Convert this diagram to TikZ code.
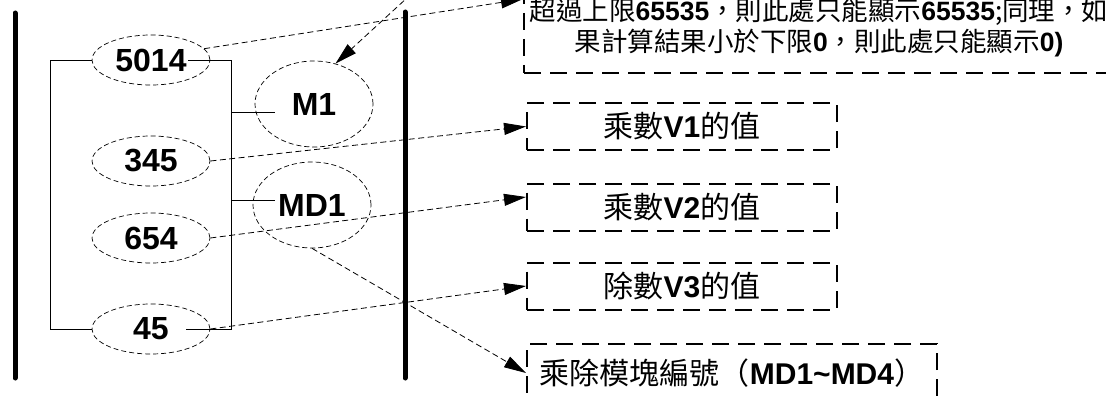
\documentclass[tikz,border=0pt]{standalone}
\usepackage{fontspec}
\setmainfont{Noto Sans CJK TC}
\newfontfamily\arialfont{Liberation Sans}
\usepackage{tikz}
\usetikzlibrary{positioning,arrows.meta,shapes.geometric,calc}
\newcommand{\bnum}[1]{{\arialfont\bfseries #1}}
\tikzset{
  numnode/.style={ellipse,draw,line width=0.7pt,dash pattern=on 5pt off 3pt,
                  minimum width=118pt,minimum height=50pt,inner sep=0pt,
                  font=\arialfont\bfseries\fontsize{32}{36}\selectfont},
  modnode/.style={numnode,minimum height=86pt},
  tagbox/.style={rectangle,draw,line width=2pt,dash pattern=on 17pt off 9pt,
                 minimum width=310pt,minimum height=47pt,inner sep=0pt,
                 font=\fontsize{30}{34}\selectfont},
  wire/.style={line width=0.8pt},
  rail/.style={line width=5pt,line cap=round},
  pointer/.style={->,line width=0.8pt,dash pattern=on 6pt off 3.5pt},
}

\begin{document}
\begin{tikzpicture}[x=1pt,y=-1pt,>={Triangle[length=22pt,width=12pt]}]
\useasboundingbox (0,0) rectangle (1106,396);
\clip (0,0) rectangle (1106,396);

% power rails
\draw[rail] (15,13) -- (15,378);
\draw[rail] (405,12) -- (405,378);

% operands and module
\node[numnode] (v5014) at (151,60) {5014};
\node[numnode] (v345) at (151,161) {345};
\node[numnode] (v654) at (151,238) {654};
\node[numnode] (v45) at (151,329) {45};
\node[modnode] (m1) at (314,104) {M1};
\node[modnode] (md1) at (312,205) {MD1};

% instruction frame
\coordinate (busL) at (50,0);
\coordinate (busR) at (231,0);
\coordinate (m1in) at ($(m1.west)+(20,8)$);
\coordinate (md1in) at ($(md1.west)+(22,-5)$);
\draw[wire] (v5014.west) -- (v5014.west -| busL) -- (v45.west -| busL) -- (v45.west);
\draw[wire] ($(v5014.center)+(37,0)$) -- (v5014.center -| busR)
  -- (v45.center -| busR) -- ($(v45.center)+(35,0)$);
\draw[wire] (m1in -| busR) -- (m1in);
\draw[wire] (md1in -| busR) -- (md1in);

% explanations
\node[tagbox,minimum width=590pt,minimum height=90pt,align=center,
      font=\fontsize{26.5}{31}\selectfont] (note) at (819,28)
  {超過上限\bnum{65535}，則此處只能顯示\bnum{65535};同理，如\\
   果計算結果小於下限\bnum{0}，則此處只能顯示\bnum{0)}};
\node[tagbox] (boxV1) at (682,126.5) {乘數\bnum{V1}的值};
\node[tagbox] (boxV2) at (682,207) {乘數\bnum{V2}的值};
\node[tagbox] (boxV3) at (682,286) {除數\bnum{V3}的值};
\node[tagbox,minimum width=410pt,minimum height=58pt] (boxMD) at (732,373)
  {乘除模塊編號（\bnum{MD1\char`\~MD4}）};

% pointers
\coordinate (noteref) at (432,-25);
\draw[pointer] (v5014.12) -- ($(note.south west)+(0,-75)$);
\draw[pointer] (noteref) -- (m1.62);
\draw[pointer] (v345.east) -- (boxV1.west);
\draw[pointer] (v654.east) -- ($(boxV2.west)+(0,-10)$);
\draw[pointer] (v45.east) -- (boxV3.west);
\draw[pointer] (md1.south) -- (boxMD.west);
\end{tikzpicture}
\end{document}
